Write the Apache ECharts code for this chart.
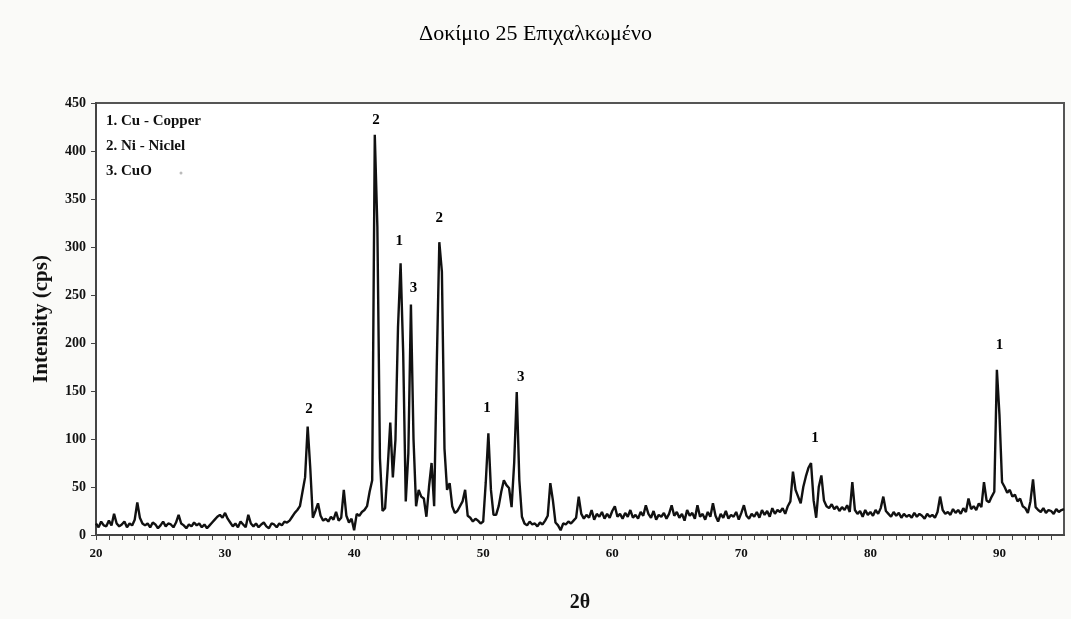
<!DOCTYPE html>
<html>
<head>
<meta charset="utf-8">
<script src="https://cdn.jsdelivr.net/npm/echarts@6/dist/echarts.min.js"></script>
<style>
  html, body { margin: 0; padding: 0; background: #fafaf8; }
  #chart { width: 1071px; height: 619px; }
</style>
</head>
<body>
<div id="chart"></div>
<script>
// 2θ sampling: 20.0 .. 95.0 every 0.2 deg
const thetaStart = 20;
const thetaStep = 0.2;

// intensity (cps), 5 values per degree (x.0, x.2, x.4, x.6, x.8)
const intensity = [
  12, 8, 14, 10, 9,        // 20
  15, 10, 22, 12, 9,       // 21
  11, 14, 8, 12, 10,       // 22
  16, 34, 18, 12, 10,      // 23
  12, 8, 13, 11, 7,        // 24
  10, 14, 9, 12, 11,       // 25
  8, 13, 21, 12, 10,       // 26
  7, 11, 9, 13, 10,        // 27
  12, 8, 11, 7, 10,        // 28
  13, 16, 19, 21, 18,      // 29
  23, 17, 13, 9, 12,       // 30
  8, 14, 11, 8, 21,        // 31
  12, 9, 12, 8, 11,        // 32
  13, 9, 7, 12, 11,        // 33
  8, 12, 10, 14, 13,       // 34
  15, 19, 23, 26, 30,      // 35
  45, 60, 113, 70, 18,     // 36
  25, 33, 20, 15, 17,      // 37
  14, 19, 16, 24, 15,      // 38
  18, 47, 20, 13, 17,      // 39
  5, 22, 20, 24, 26,       // 40
  30, 45, 57, 417, 321,    // 41
  80, 25, 28, 70, 117,     // 42
  60, 99, 217, 283, 190,   // 43
  35, 85, 240, 100, 30,    // 44
  47, 40, 38, 19, 50,      // 45
  75, 30, 175, 305, 274,   // 46
  90, 47, 54, 30, 23,      // 47
  25, 30, 35, 47, 20,      // 48
  18, 14, 17, 15, 12,      // 49
  14, 55, 106, 47, 21,     // 50
  21, 30, 45, 57, 52,      // 51
  49, 29, 75, 149, 57,     // 52
  19, 12, 10, 14, 11,      // 53
  12, 9, 13, 11, 15,       // 54
  20, 54, 36, 13, 10,      // 55
  5, 12, 11, 14, 12,       // 56
  15, 18, 40, 22, 17,      // 57
  21, 18, 26, 16, 22,      // 58
  19, 24, 17, 22, 18,      // 59
  25, 30, 19, 22, 17,      // 60
  23, 19, 26, 18, 21,      // 61
  17, 24, 20, 31, 22,      // 62
  18, 25, 16, 21, 19,      // 63
  23, 17, 22, 31, 20,      // 64
  24, 18, 22, 15, 26,      // 65
  20, 23, 17, 31, 19,      // 66
  22, 16, 24, 19, 33,      // 67
  20, 14, 22, 18, 25,      // 68
  17, 21, 19, 24, 16,      // 69
  23, 31, 20, 17, 22,      // 70
  19, 24, 18, 26, 21,      // 71
  25, 19, 28, 22, 26,      // 72
  24, 28, 22, 30, 35,      // 73
  66, 47, 40, 33, 50,      // 74
  61, 70, 75, 36, 18,      // 75
  50, 62, 36, 30, 28,      // 76
  32, 27, 30, 25, 29,      // 77
  26, 31, 24, 55, 26,      // 78
  22, 25, 19, 26, 21,      // 79
  24, 20, 26, 22, 28,      // 80
  40, 25, 22, 19, 24,      // 81
  20, 23, 18, 22, 19,      // 82
  21, 18, 23, 19, 22,      // 83
  20, 17, 22, 19, 21,      // 84
  18, 24, 40, 26, 22,      // 85
  24, 21, 27, 23, 26,      // 86
  22, 28, 24, 38, 27,      // 87
  30, 26, 33, 29, 55,      // 88
  36, 34, 40, 45, 172,     // 89
  125, 55, 50, 44, 47,     // 90
  40, 42, 35, 38, 30,      // 91
  28, 23, 35, 58, 29,      // 92
  26, 24, 28, 23, 26,      // 93
  25, 22, 27, 24, 26,      // 94
  27                       // 95
];

// peak markers (phase numbers)
const peakTheta = [36.5, 41.7, 43.5, 44.6, 46.6, 50.3, 52.9, 75.7, 90.0];
const peakLabelY = [131, 432, 306, 257, 330, 132, 164, 101, 198];
const peakPhase = ['2', '2', '1', '3', '2', '1', '3', '1', '1'];

const legendLines = ['1. Cu - Copper', '2. Ni - Niclel', '3. CuO'];

const xTicks = [20, 30, 40, 50, 60, 70, 80, 90];

const serif = '"Liberation Serif", "Times New Roman", serif';

const pattern = intensity.map((v, i) => [+(thetaStart + i * thetaStep).toFixed(1), v]);
const peaks = peakTheta.map((t, i) => ({ value: [t, peakLabelY[i]], label: { formatter: peakPhase[i] } }));

const chart = echarts.init(document.getElementById('chart'));

chart.setOption({
  backgroundColor: '#fafaf8',
  animation: false,
  title: {
    text: 'Δοκίμιο 25 Επιχαλκωμένο',
    left: 'center',
    top: 18,
    textStyle: { fontFamily: serif, fontSize: 22, fontWeight: 'normal', color: '#000' }
  },
  grid: {
    left: 96, right: 7, top: 103, bottom: 84,
    show: true,
    backgroundColor: '#ffffff',
    borderColor: '#555',
    borderWidth: 2
  },
  xAxis: {
    type: 'value',
    min: 20,
    max: 95,
    interval: 1,
    name: '2θ',
    nameLocation: 'middle',
    nameGap: 58,
    nameTextStyle: { fontFamily: serif, fontSize: 20, fontWeight: 'bold', color: '#111' },
    axisLine: { lineStyle: { color: '#444', width: 2 } },
    axisTick: { inside: false, length: 5, lineStyle: { color: '#444' } },
    axisLabel: {
      margin: 12,
      fontFamily: serif, fontSize: 13, fontWeight: 'bold', color: '#111',
      showMaxLabel: false,
      formatter: v => (xTicks.includes(v) ? String(v) : '')
    },
    splitLine: { show: false }
  },
  yAxis: {
    type: 'value',
    min: 0,
    max: 450,
    interval: 50,
    name: 'Intensity (cps)',
    nameLocation: 'middle',
    nameGap: 44,
    nameTextStyle: { fontFamily: serif, fontSize: 21, fontWeight: 'bold', color: '#111' },
    axisLine: { show: true, lineStyle: { color: '#444', width: 2 } },
    axisTick: { show: true, length: 5, lineStyle: { color: '#444' } },
    axisLabel: { margin: 10, fontFamily: serif, fontSize: 14, fontWeight: 'bold', color: '#111' },
    splitLine: { show: false }
  },
  graphic: legendLines.map((t, i) => ({
    type: 'text',
    left: 106,
    top: 114 + i * 25,
    style: { text: t, fontFamily: serif, fontSize: 15, fontWeight: 'bold', fill: '#111' }
  })).concat([{
    type: 'circle', shape: { cx: 181, cy: 173, r: 1.5 }, style: { fill: '#bbb' }
  }]),
  series: [
    {
      type: 'line',
      data: pattern,
      symbol: 'none',
      lineStyle: { color: '#111', width: 2.4 },
      z: 3
    },
    {
      type: 'scatter',
      data: peaks,
      symbolSize: 0,
      itemStyle: { color: '#000', opacity: 1 },
      label: {
        show: true,
        position: 'inside',
        fontFamily: serif, fontSize: 15, fontWeight: 'bold', color: '#000'
      },
      z: 4
    }
  ]
});
</script>
</body>
</html>
